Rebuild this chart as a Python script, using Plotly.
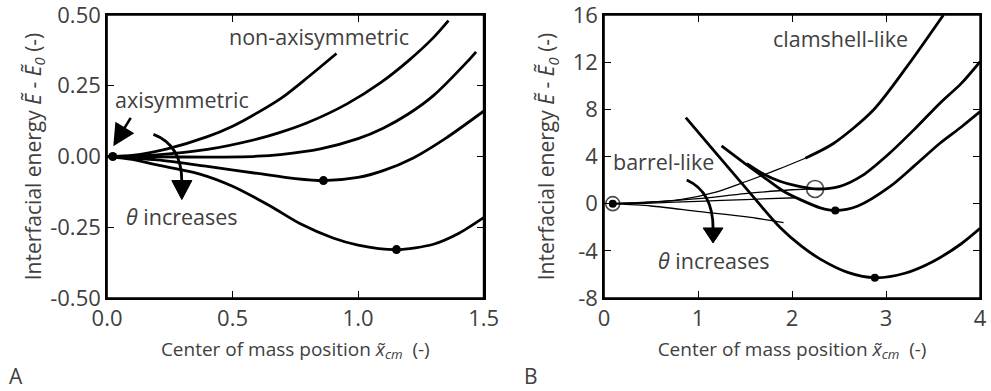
import plotly.graph_objects as go

# ---------------- Panel A data ----------------
a_c1_x = [0.0, 0.1, 0.24, 0.4, 0.5, 0.6, 0.7, 0.8, 0.914]
a_c1_y = [0.0, 0.004, 0.027, 0.07, 0.107, 0.155, 0.21, 0.28, 0.364]
a_c2_x = [0.0, 0.2, 0.4, 0.6, 0.69, 0.8, 0.956, 1.09, 1.2, 1.3, 1.36]
a_c2_y = [0.0, 0.006, 0.025, 0.062, 0.085, 0.12, 0.186, 0.261, 0.338, 0.42, 0.48]
a_c3_x = [0.0, 0.2, 0.4, 0.6, 0.69, 0.85, 1.0, 1.1, 1.2, 1.3, 1.436, 1.47]
a_c3_y = [0.0, -0.001, -0.002, 0.001, 0.007, 0.027, 0.063, 0.1, 0.15, 0.215, 0.336, 0.37]
a_c4_x = [0.0, 0.2, 0.4, 0.6, 0.75, 0.862, 1.0, 1.1, 1.22, 1.35, 1.5]
a_c4_y = [0.0, -0.012, -0.035, -0.06, -0.078, -0.085, -0.074, -0.05, -0.005, 0.065, 0.16]
a_c5_x = [0.0, 0.1, 0.2, 0.37, 0.5, 0.65, 0.77, 0.9, 1.0, 1.153, 1.3, 1.4, 1.5]
a_c5_y = [0.0, -0.01, -0.03, -0.062, -0.105, -0.175, -0.238, -0.288, -0.313, -0.329, -0.31, -0.272, -0.216]
a_dot_x = [0.023, 0.862, 1.153]
a_dot_y = [0.0, -0.085, -0.329]
a_xticks = [0.0, 0.5, 1.0, 1.5]
a_xlabels = ["0.0", "0.5", "1.0", "1.5"]
a_yticks = [0.5, 0.25, 0.0, -0.25, -0.5]
a_ylabels = ["0.50", "0.25", "0.00", "-0.25", "-0.50"]

# ---------------- Panel B data ----------------
b_t1_x = [0.093, 0.4, 0.81, 1.2, 1.52, 1.85, 2.14]
b_t1_y = [0.0, 0.1, 0.35, 1.0, 1.9, 2.9, 3.85]
b_t2_x = [0.093, 0.5, 1.0, 1.5, 2.0, 2.245]
b_t2_y = [0.0, 0.12, 0.42, 0.85, 1.18, 1.25]
b_t3_x = [0.093, 0.5, 1.0, 1.5, 2.05]
b_t3_y = [0.0, 0.05, 0.2, 0.35, 0.5]
b_t4_x = [0.093, 0.5, 1.02, 1.5, 1.91]
b_t4_y = [0.0, -0.2, -0.68, -1.1, -1.6]
b_ca_x = [2.14, 2.44, 2.86, 3.22, 3.61]
b_ca_y = [3.85, 5.1, 7.9, 11.6, 16.0]
b_cb_x = [1.52, 1.7, 1.87, 2.05, 2.245, 2.5, 2.75, 3.04, 3.3, 3.57, 3.8, 4.0]
b_cb_y = [3.4, 2.5, 1.9, 1.5, 1.25, 1.45, 2.4, 4.3, 6.3, 8.5, 10.2, 12.05]
b_cc_x = [1.25, 1.5, 1.69, 1.9, 2.1, 2.3, 2.46, 2.7, 3.04, 3.3, 3.57, 3.8, 4.0]
b_cc_y = [4.9, 3.4, 2.3, 1.1, 0.3, -0.35, -0.58, -0.2, 1.44, 3.2, 5.1, 6.5, 7.8]
b_cd_x = [0.87, 1.2, 1.5, 1.87, 2.1, 2.3, 2.6, 2.88, 3.2, 3.5, 3.8, 4.0]
b_cd_y = [7.3, 4.2, 1.4, -2.0, -3.6, -4.7, -5.85, -6.28, -5.9, -4.9, -3.4, -2.1]
b_dot_x = [0.093, 2.46, 2.88]
b_dot_y = [0.0, -0.58, -6.28]
b_ring_x = [0.093, 2.245]
b_ring_y = [0.0, 1.25]
b_ring_size = [14, 17]
b_xticks = [0, 1, 2, 3, 4]
b_xlabels = ["0", "1", "2", "3", "4"]
b_yticks = [16, 12, 8, 4, 0, -4, -8]
b_ylabels = ["16", "12", "8", "4", "0", "-4", "-8"]

FONT = "Open Sans"
TXT = "#404040"
THICK = 2.8
THIN = 1.3

fig = go.Figure()

def line(xs, ys, w, xa="x", ya="y"):
    fig.add_trace(go.Scatter(x=xs, y=ys, mode="lines", xaxis=xa, yaxis=ya,
                             line=dict(color="black", width=w, shape="spline", smoothing=0.8),
                             showlegend=False, hoverinfo="skip"))

for xs, ys in [(a_c1_x, a_c1_y), (a_c2_x, a_c2_y), (a_c3_x, a_c3_y), (a_c4_x, a_c4_y), (a_c5_x, a_c5_y)]:
    line(xs, ys, THICK)
fig.add_trace(go.Scatter(x=a_dot_x, y=a_dot_y, mode="markers", marker=dict(color="black", size=9),
                         showlegend=False, hoverinfo="skip"))

for xs, ys in [(b_t1_x, b_t1_y), (b_t2_x, b_t2_y), (b_t3_x, b_t3_y), (b_t4_x, b_t4_y)]:
    line(xs, ys, THIN, "x2", "y2")
for xs, ys in [(b_ca_x, b_ca_y), (b_cb_x, b_cb_y), (b_cc_x, b_cc_y), (b_cd_x, b_cd_y)]:
    line(xs, ys, THICK, "x2", "y2")
fig.add_trace(go.Scatter(x=b_ring_x, y=b_ring_y, mode="markers", xaxis="x2", yaxis="y2",
                         marker=dict(color="rgba(255,255,255,0)", size=b_ring_size,
                                     line=dict(color="black", width=1.6)),
                         showlegend=False, hoverinfo="skip"))
fig.add_trace(go.Scatter(x=b_dot_x, y=b_dot_y, mode="markers", xaxis="x2", yaxis="y2",
                         marker=dict(color="black", size=8),
                         showlegend=False, hoverinfo="skip"))

axis_common = dict(showline=True, linecolor="black", linewidth=1.6, mirror="ticks",
                   ticks="inside", ticklen=7, tickwidth=1.4, tickcolor="black",
                   showgrid=False, zeroline=False, automargin=False,
                   ticklabeloverflow="allow",
                   tickfont=dict(family=FONT, size=22, color=TXT))

xtitle = "Center of mass position <i>x̃</i><sub><i>cm</i></sub>  (-)"
ytitle = "Interfacial energy <i>Ẽ</i> - <i>Ẽ</i><sub><i>0</i></sub> (-)"
xfont = dict(family=FONT, size=19, color=TXT)
yfont = dict(family=FONT, size=21, color=TXT)

fig.update_layout(
    width=991, height=391, margin=dict(l=0, r=0, t=15, b=93),
    paper_bgcolor="white", plot_bgcolor="white",
    xaxis=dict(axis_common, domain=[0.108, 0.488], range=[0, 1.5], tickvals=a_xticks, ticktext=a_xlabels,
               anchor="y", title=dict(text=xtitle, font=xfont, standoff=11)),
    yaxis=dict(axis_common, domain=[0, 1], range=[-0.5, 0.5], tickvals=a_yticks, ticktext=a_ylabels,
               anchor="x", title=dict(text=ytitle, font=yfont, standoff=3)),
    xaxis2=dict(axis_common, domain=[0.6095, 0.989], range=[0, 4], tickvals=b_xticks, ticktext=b_xlabels,
                anchor="y2", title=dict(text=xtitle, font=xfont, standoff=11)),
    yaxis2=dict(axis_common, domain=[0, 1], range=[-8, 16], tickvals=b_yticks, ticktext=b_ylabels,
                anchor="x2", title=dict(text=ytitle, font=yfont, standoff=12)),
)

# frames around both plot areas
for x0, x1 in [(0.108, 0.488), (0.6095, 0.989)]:
    fig.add_shape(type="rect", xref="paper", yref="paper", x0=x0, x1=x1, y0=0, y1=1,
                  line=dict(color="black", width=1.6), fillcolor="rgba(0,0,0,0)", layer="above")

def txt(x, y, s, xr="x", yr="y", size=21.5):
    fig.add_annotation(x=x, y=y, xref=xr, yref=yr, text=s, showarrow=False,
                       font=dict(family=FONT, size=size, color=TXT))

txt(0.846, 0.424, "non-axisymmetric")
txt(0.299, 0.201, "axisymmetric")
txt(0.299, -0.212, "<i>θ</i> increases")
txt(2.51, 13.97, "clamshell-like", "x2", "y2")
txt(0.633, 3.54, "barrel-like", "x2", "y2")
txt(1.17, -4.78, "<i>θ</i> increases", "x2", "y2")

# straight arrow (panel A)
fig.add_annotation(x=0.025, y=0.036, ax=0.098, ay=0.142, xref="x", yref="y", axref="x", ayref="y",
                   text="", showarrow=True, arrowhead=2, arrowsize=1.7, arrowwidth=2.6, arrowcolor="black")

# curved arrows
fig.add_shape(type="path", xref="x", yref="y", path="M 0.185,0.078 Q 0.298,0.04 0.298,-0.09",
              line=dict(color="black", width=2.8))
fig.add_shape(type="path", xref="x", yref="y", path="M 0.258,-0.085 L 0.338,-0.085 L 0.298,-0.152 Z",
              fillcolor="black", line=dict(color="black", width=1))
fig.add_shape(type="path", xref="x2", yref="y2", path="M 0.88,2.01 Q 1.16,1.0 1.16,-2.1",
              line=dict(color="black", width=2.8))
fig.add_shape(type="path", xref="x2", yref="y2", path="M 1.054,-2.06 L 1.266,-2.06 L 1.16,-3.33 Z",
              fillcolor="black", line=dict(color="black", width=1))

# panel letters
fig.add_annotation(x=7 / 991, y=-78 / 283, xref="paper", yref="paper", text="A", showarrow=False,
                   xanchor="left", yanchor="middle", font=dict(family=FONT, size=21, color=TXT))
fig.add_annotation(x=522 / 991, y=-78 / 283, xref="paper", yref="paper", text="B", showarrow=False,
                   xanchor="left", yanchor="middle", font=dict(family=FONT, size=21, color=TXT))

fig.write_html("out.html")
